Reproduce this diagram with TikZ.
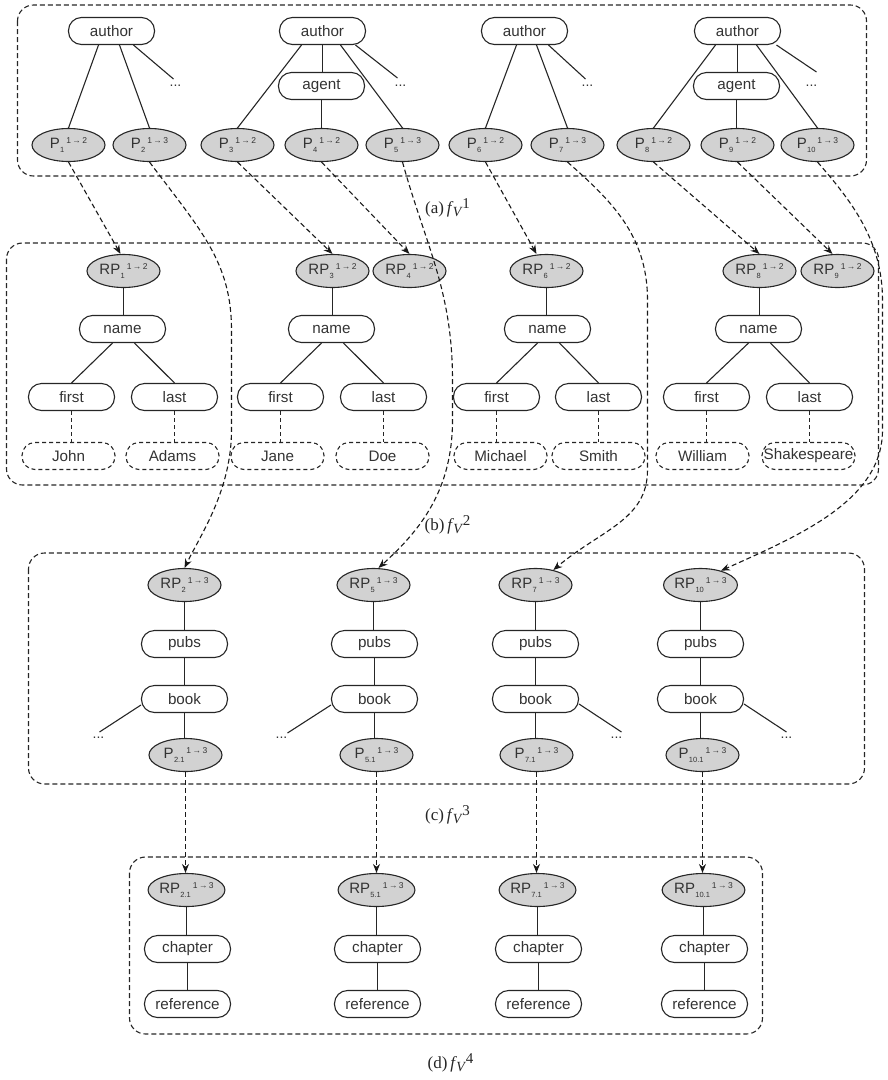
\documentclass[tikz,border=0pt]{standalone}
\usepackage{fontspec}
\setmainfont{Liberation Sans}
\newfontfamily\capserif{Liberation Serif}
\usetikzlibrary{arrows.meta,shapes.geometric}
\newcommand{\PL}[3]{#1\kern0.3pt\raisebox{-3.5pt}{\fontsize{7.5}{8}\selectfont #2}\kern2pt\raisebox{5.5pt}{\fontsize{8.5}{9}\selectfont #3}}
\newcommand{\FV}[2]{(#1)\,\textit{f}\kern-0.5pt\raisebox{-3pt}{\fontsize{14}{14}\selectfont\textit{V}}\kern-0.5pt\raisebox{5pt}{\fontsize{15}{15}\selectfont #2}}
\tikzset{
  base/.style={line width=1.1pt, draw=black!85},
  pill/.style={base, rectangle, rounded corners=13pt, minimum width=86pt, minimum height=27pt,
    inner sep=0pt, font=\fontsize{15.2}{17}\selectfont, text=black!80},
  leaf/.style={pill, dash pattern=on 4pt off 3pt, minimum width=93pt},
  pnode/.style={base, ellipse, fill=gray!35, minimum width=73pt, minimum height=33pt,
    inner sep=0pt, font=\fontsize{15}{17}\selectfont, text=black!80},
  panel/.style={line width=1.1pt, draw=black!85, dash pattern=on 5pt off 3pt, rounded corners=16pt},
  edge/.style={line width=1.1pt, draw=black!85},
  dlink/.style={line width=1.1pt, draw=black!85, dash pattern=on 4pt off 3pt},
  map/.style={line width=1.1pt, draw=black!90, dash pattern=on 5pt off 3pt, -{Stealth[length=9pt,width=7pt]}},
  dotsn/.style={font=\fontsize{14}{16}\selectfont, text=black!80, inner sep=0pt},
  capt/.style={font=\capserif\fontsize{17}{19}\selectfont, text=black!85, inner sep=0pt}
}
\begin{document}
\begin{tikzpicture}[x=1pt,y=-1pt]
\useasboundingbox (0,0) rectangle (888,1080);
\begin{scope}[xshift=0.5pt]

% ---------- panels
\draw[panel] (17,5) rectangle (866,176);
\draw[panel] (6,243) rectangle (878,485);
\draw[panel] (28,553) rectangle (864,784);
\draw[panel] (129,857) rectangle (762,1034);

% ---------- panel (a)
\node[pill] (au1) at (111,31) {author};
\node[pnode] (p1) at (68,145) {\PL{P}{1}{1\,→\,2}};
\node[pnode] (p2) at (149,145) {\PL{P}{2}{1\,→\,3}};
\coordinate (e1) at (173,79);
\node[dotsn] (d1) at (175,86) {...};

\node[pill] (au2) at (322,31) {author};
\node[pill] (ag2) at (321,86) {agent};
\node[pnode] (p3) at (237,145) {\PL{P}{3}{1\,→\,2}};
\node[pnode] (p4) at (321,145) {\PL{P}{4}{1\,→\,2}};
\node[pnode] (p5) at (402,145) {\PL{P}{5}{1\,→\,3}};
\coordinate (e2) at (397,78);
\node[dotsn] (d2) at (400,86) {...};

\node[pill] (au3) at (524,31) {author};
\node[pnode] (p6) at (485,145) {\PL{P}{6}{1\,→\,2}};
\node[pnode] (p7) at (567,145) {\PL{P}{7}{1\,→\,3}};
\coordinate (e3) at (585,79);
\node[dotsn] (d3) at (587,86) {...};

\node[pill] (au4) at (737,31) {author};
\node[pill] (ag4) at (736,86) {agent};
\node[pnode] (p8) at (653,145) {\PL{P}{8}{1\,→\,2}};
\node[pnode] (p9) at (737,145) {\PL{P}{9}{1\,→\,2}};
\node[pnode] (p10) at (817,145) {\PL{P}{10}{1\,→\,3}};
\coordinate (e4) at (816,72);
\node[dotsn] (d4) at (811,86) {...};

\draw[edge] ([xshift=-13pt]au1.south) -- (p1.north);
\draw[edge] ([xshift=8pt]au1.south) -- (p2.north);
\draw[edge] ([xshift=22pt]au1.south) -- (e1);
\draw[edge] ([xshift=-21pt]au2.south) -- (p3.north);
\draw[edge] (au2.south) -- (au2.south |- ag2.north);
\draw[edge] (ag2.south) -- (ag2.south |- p4.north);
\draw[edge] ([xshift=18pt]au2.south) -- (p5.north);
\draw[edge] ([xshift=33pt]au2.south) -- (e2);
\draw[edge] ([xshift=-8pt]au3.south) -- (p6.north);
\draw[edge] ([xshift=12pt]au3.south) -- (p7.north);
\draw[edge] ([xshift=24pt]au3.south) -- (e3);
\draw[edge] ([xshift=-22pt]au4.south) -- (p8.north);
\draw[edge] (au4.south) -- (au4.south |- ag4.north);
\draw[edge] (ag4.south) -- (ag4.south |- p9.north);
\draw[edge] ([xshift=19pt]au4.south) -- (p10.north);
\draw[edge] ([xshift=39pt]au4.south) -- (e4);

\node[capt] (ca) at (447,208) {\FV{a}{1}};

% ---------- panel (b)
\node[pnode] (rp1) at (123,271) {\PL{RP}{1}{1\,→\,2}};
\node[pill] (nm1) at (122,329) {name};
\node[pill] (f1) at (71,397) {first};
\node[pill] (l1) at (174,397) {last};
\node[leaf] (j1) at (68,456) {John};
\node[leaf] (ad1) at (172,456) {Adams};

\node[pnode] (rp3) at (332,271) {\PL{RP}{3}{1\,→\,2}};
\node[pnode] (rp4) at (409,271) {\PL{RP}{4}{1\,→\,2}};
\node[pill] (nm2) at (331,329) {name};
\node[pill] (f2) at (280,397) {first};
\node[pill] (l2) at (383,397) {last};
\node[leaf] (ja) at (277,456) {Jane};
\node[leaf] (do) at (382,456) {Doe};

\node[pnode] (rp6) at (546,271) {\PL{RP}{6}{1\,→\,2}};
\node[pill] (nm3) at (547,329) {name};
\node[pill] (f3) at (496,397) {first};
\node[pill] (l3) at (598,397) {last};
\node[leaf] (mi) at (500,456) {Michael};
\node[leaf] (sm) at (598,456) {Smith};

\node[pnode] (rp8) at (759,271) {\PL{RP}{8}{1\,→\,2}};
\node[pnode] (rp9) at (837,271) {\PL{RP}{9}{1\,→\,2}};
\node[pill] (nm4) at (758,329) {name};
\node[pill] (f4) at (706,397) {first};
\node[pill] (l4) at (809,397) {last};
\node[leaf] (wi) at (702,456) {William};
\node[leaf] (sh) at (808,456) {Shakespeare};

\foreach \r/\n/\f/\l/\a/\b in {rp1/nm1/f1/l1/j1/ad1, rp3/nm2/f2/l2/ja/do, rp6/nm3/f3/l3/mi/sm, rp8/nm4/f4/l4/wi/sh}{
  \draw[edge] (\r.south) -- (\r.south |- \n.north);
  \draw[edge] ([xshift=-10pt]\n.south) -- (\f.north);
  \draw[edge] ([xshift=12pt]\n.south) -- (\l.north);
  \draw[dlink] (\f.south) -- (\f.south |- \a.north);
  \draw[dlink] (\l.south) -- (\l.south |- \b.north);
}

\node[capt] (cb) at (447,525) {\FV{b}{2}};

% ---------- panel (c)
\node[pnode] (rp2) at (184,585) {\PL{RP}{2}{1\,→\,3}};
\node[pill] (pb1) at (184,644) {pubs};
\node[pill] (bk1) at (184,699) {book};
\node[pnode] (p21) at (185,755) {\PL{P}{2.1}{1\,→\,3}};
\coordinate (g1) at (99,732);
\node[dotsn] (h1) at (98,738) {...};

\node[pnode] (rp5) at (373,585) {\PL{RP}{5}{1\,→\,3}};
\node[pill] (pb2) at (374,644) {pubs};
\node[pill] (bk2) at (374,699) {book};
\node[pnode] (p51) at (376,755) {\PL{P}{5.1}{1\,→\,3}};
\coordinate (g2) at (287,733);
\node[dotsn] (h2) at (281,738) {...};

\node[pnode] (rp7) at (535,585) {\PL{RP}{7}{1\,→\,3}};
\node[pill] (pb3) at (535,644) {pubs};
\node[pill] (bk3) at (535,699) {book};
\node[pnode] (p71) at (536,755) {\PL{P}{7.1}{1\,→\,3}};
\coordinate (g3) at (621,732);
\node[dotsn] (h3) at (616,738) {...};

\node[pnode] (rp10) at (700,585) {\PL{RP}{10}{1\,→\,3}};
\node[pill] (pb4) at (700,644) {pubs};
\node[pill] (bk4) at (700,699) {book};
\node[pnode] (p101) at (702,755) {\PL{P}{10.1}{1\,→\,3}};
\coordinate (g4) at (786,732);
\node[dotsn] (h4) at (786,738) {...};

\foreach \r/\p/\b/\q in {rp2/pb1/bk1/p21, rp5/pb2/bk2/p51, rp7/pb3/bk3/p71, rp10/pb4/bk4/p101}{
  \draw[edge] (\r.south) -- (\r.south |- \p.north);
  \draw[edge] (\p.south) -- (\p.south |- \b.north);
  \draw[edge] (\b.south) -- (\b.south |- \q.north);
}
\draw[edge] ([yshift=-6pt]bk1.west) -- (g1);
\draw[edge] ([yshift=-6pt]bk2.west) -- (g2);
\draw[edge] ([yshift=-5pt]bk3.east) -- (g3);
\draw[edge] ([yshift=-5pt]bk4.east) -- (g4);

\node[capt] (cc) at (447,815) {\FV{c}{3}};

% ---------- panel (d)
\node[pnode] (rp21) at (186,890) {\PL{RP}{2.1}{1\,→\,3}};
\node[pill] (ch1) at (187,949) {chapter};
\node[pill] (rf1) at (187,1004) {reference};
\node[pnode] (rp51) at (376,890) {\PL{RP}{5.1}{1\,→\,3}};
\node[pill] (ch2) at (377,949) {chapter};
\node[pill] (rf2) at (377,1004) {reference};
\node[pnode] (rp71) at (537,890) {\PL{RP}{7.1}{1\,→\,3}};
\node[pill] (ch3) at (538,949) {chapter};
\node[pill] (rf3) at (538,1004) {reference};
\node[pnode] (rp101) at (703,890) {\PL{RP}{10.1}{1\,→\,3}};
\node[pill] (ch4) at (704,949) {chapter};
\node[pill] (rf4) at (704,1004) {reference};
\foreach \r/\c/\f in {rp21/ch1/rf1, rp51/ch2/rf2, rp71/ch3/rf3, rp101/ch4/rf4}{
  \draw[edge] (\r.south) -- (\r.south |- \c.north);
  \draw[edge] (\c.south) -- (\c.south |- \f.north);
}

\node[capt] (cd) at (450,1063) {\FV{d}{4}};

% ---------- mapping connectors
\draw[map] (p1.south) -- ([xshift=-3pt]rp1.north);
\draw[map] (p3.south) -- (rp3.north);
\draw[map] (p4.south) -- (rp4.north);
\draw[map] (p6.south) -- ([xshift=-10pt]rp6.north);
\draw[map] (p8.south) -- (rp8.north);
\draw[map] (p9.south) -- ([xshift=-5pt]rp9.north);

\draw[map] (p2.south) .. controls (200,230) and (231,262) .. (231,330) -- (231,430)
  .. controls (231,490) and (200,535) .. (rp2.north);
\draw[map] (p5.south) .. controls (425,245) and (452,290) .. (452,380) -- (452,420)
  .. controls (452,490) and (420,530) .. ([xshift=5pt]rp5.north);
\draw[map] (p7.south) .. controls (610,200) and (647,235) .. (647,300) -- (647,470)
  .. controls (647,520) and (600,530) .. (rp7.40);
\draw[map] (p10.south) .. controls (850,200) and (882,240) .. (882,300) -- (882,430)
  .. controls (882,500) and (800,535) .. (rp10.35);

\draw[map] (p21.south) -- (p21.south |- rp21.north);
\draw[map] (p51.south) -- (p51.south |- rp51.north);
\draw[map] (p71.south) -- (p71.south |- rp71.north);
\draw[map] (p101.south) -- (p101.south |- rp101.north);
\end{scope}
\end{tikzpicture}
\end{document}
